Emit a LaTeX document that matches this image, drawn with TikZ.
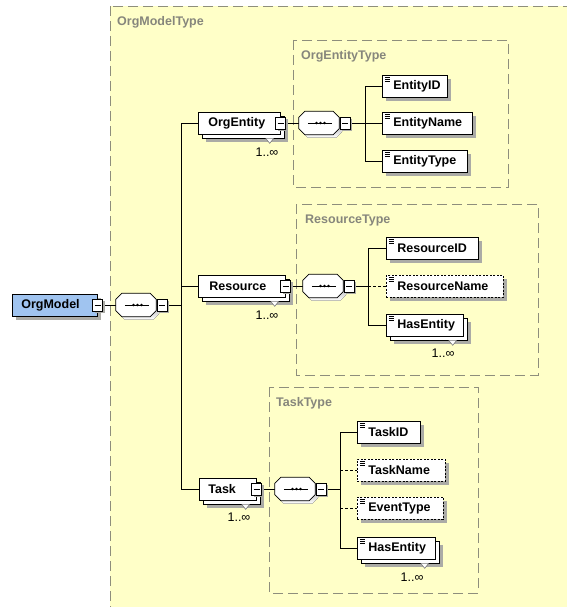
\documentclass[tikz,border=0pt]{standalone}
\usepackage{fontspec}
\setmainfont{Liberation Sans}
\usetikzlibrary{shadows}
\pgfdeclarelayer{typelayer}
\pgfdeclarelayer{wirelayer}
\pgfsetlayers{typelayer,wirelayer,main}

\definecolor{typefill}{HTML}{FFFFC8}
\definecolor{typeline}{HTML}{8E8E7C}
\definecolor{typetext}{HTML}{86867C}
\definecolor{rootfill}{HTML}{A0C4F0}
\definecolor{shade}{HTML}{ABABA6}

% fixed-width element caption: width, left padding, text
\newcommand\eltext[3]{\makebox[#1pt][l]{\hspace*{#2pt}#3}}
% small occurrence notch under a repeated element
\newcommand\notchat[1]{\draw[notch] ([shift={(-15pt,-4pt)}]#1.south east) -- ++(4pt,-5pt) -- ++(4pt,5pt);}
% sequence compositor outline drawn round a named node
\newcommand\octpath[1]{([xshift=6pt]#1.north west) -- ([xshift=-6pt]#1.north east) -- ([yshift=-6pt]#1.north east)
  -- ([yshift=6pt]#1.south east) -- ([xshift=-6pt]#1.south east) -- ([xshift=6pt]#1.south west)
  -- ([yshift=6pt]#1.south west) -- ([yshift=-6pt]#1.north west) -- cycle}
\newcommand\seqdraw[1]{%
  \fill[shade, transform canvas={shift={(3pt,-3pt)}}] \octpath{#1};
  \draw[compline, fill=white] \octpath{#1};
  \draw[line width=0.8pt] ([xshift=9pt]#1.west) -- ([xshift=-7pt]#1.east);
  \foreach \dx in {-2.5,1.5,5.5} \fill ([xshift=\dx pt]#1.center) circle[radius=1.45pt];}

\tikzset{
  x=1pt, y=-1pt,
  elfont/.style={font=\bfseries\fontsize{12.5}{14}\selectfont},
  typebox/.style={draw=typeline, fill=typefill, line width=0.9pt, dash pattern=on 10pt off 5pt},
  typelabel/.style={anchor=west, inner sep=0, text=typetext, elfont},
  elbase/.style={draw=black, fill=white, line width=0.7pt, anchor=west, inner sep=0,
    minimum height=22pt, elfont},
  elem/.style={elbase, drop shadow={shadow xshift=4pt, shadow yshift=-4pt, fill=shade, draw=none, opacity=1}},
  multi/.style={elbase,
    drop shadow={shadow xshift=8pt, shadow yshift=-8pt, fill=shade, draw=none, opacity=1},
    copy shadow={shadow xshift=4pt, shadow yshift=-4pt, fill=white, draw=black, solid, opacity=1}},
  simple/.style={path picture={\foreach \k in {2,4,6}
      \draw[line width=0.5pt, solid] ([xshift=2.5pt, yshift=-\k pt]path picture bounding box.north west) -- ++(5pt,0pt);}},
  optional/.style={dash pattern=on 2pt off 1.5pt},
  root/.style={elem, fill=rootfill},
  minus/.style={draw=black, fill=white, line width=0.6pt, solid, minimum width=10pt, minimum height=12pt, inner sep=0,
    drop shadow={shadow xshift=2pt, shadow yshift=-2pt, fill=shade, draw=none, opacity=1},
    path picture={\draw[line width=0.7pt] ([xshift=2pt]path picture bounding box.west) -- ([xshift=-2pt]path picture bounding box.east);}},
  comp/.style={rectangle, draw=none, minimum width=40pt, minimum height=23pt, inner sep=0},
  compline/.style={draw=black, line width=0.7pt},
  wire/.style={draw=black, line width=0.8pt},
  optwire/.style={wire, dash pattern=on 3pt off 2pt},
  notch/.style={draw=black!60, fill=white, line width=0.5pt},
  occurs/.style={inner sep=0, font=\fontsize{12.5}{14}\selectfont},
}

\begin{document}
\begin{tikzpicture}
\useasboundingbox (0,0) rectangle (566,607);
\clip (0,0) rectangle (566,607);

% complex type regions
\begin{pgfonlayer}{typelayer}
  \fill[white] (0,0) rectangle (566,607);
  \path[typebox] (110,6) rectangle (585,625);
  \path[typebox] (293,40) rectangle (508,187);
  \path[typebox] (296,204) rectangle (538,375);
  \path[typebox] (269,387) rectangle (478,593);
\end{pgfonlayer}
\node[typelabel] (tlom) at (117,22) {OrgModelType};
\node[typelabel] (tloe) at (301,56) {OrgEntityType};
\node[typelabel] (tlres) at (305,220) {ResourceType};
\node[typelabel] (tltask) at (276,403) {TaskType};

% root element
\node[root] (om) at (12,305) {\eltext{85}{9}{OrgModel}};
\node[minus] (omx) at (om.east) {};
\node[comp] (c0) at (136,305) {};
\seqdraw{c0}
\node[minus] (c0x) at ([xshift=6pt]c0.east) {};
\coordinate (bus0) at (181,0);

% OrgEntity branch
\node[multi] (oe) at (198,123) {\eltext{82}{10}{OrgEntity}};
\notchat{oe}
\node[minus] (oex) at (oe.east) {};
\node[occurs] (oeocc) at (267,152) {1..∞};
\node[comp] (c1) at (319,123) {};
\seqdraw{c1}
\node[minus] (c1x) at ([xshift=6pt]c1.east) {};
\coordinate (bus1) at (365,0);
\node[elem, simple] (eid) at (382,86) {\eltext{65}{11}{EntityID}};
\node[elem, simple] (ename) at (382,123) {\eltext{90}{11}{EntityName}};
\node[elem, simple] (etype) at (382,161) {\eltext{85}{11}{EntityType}};

% Resource branch
\node[multi] (res) at (198,286) {\eltext{87}{11}{Resource}};
\notchat{res}
\node[minus] (resx) at (res.east) {};
\node[occurs] (resocc) at (267,315) {1..∞};
\node[comp] (c2) at (323,286) {};
\seqdraw{c2}
\node[minus] (c2x) at ([xshift=6pt]c2.east) {};
\coordinate (bus2) at (368,0);
\node[elem, simple] (rid) at (386,248) {\eltext{92}{11}{ResourceID}};
\node[elem, simple, optional] (rname) at (386,286) {\eltext{117}{11}{ResourceName}};
\node[multi, simple] (rhas) at (386,325) {\eltext{77}{11}{HasEntity}};
\notchat{rhas}
\node[occurs] (rhasocc) at (443,353) {1..∞};

% Task branch
\node[multi] (task) at (199,489) {\eltext{57}{9}{Task}};
\notchat{task}
\node[minus] (taskx) at (task.east) {};
\node[occurs] (taskocc) at (239,517) {1..∞};
\node[comp] (c3) at (295,489) {};
\seqdraw{c3}
\node[minus] (c3x) at ([xshift=6pt]c3.east) {};
\coordinate (bus3) at (340,0);
\node[elem, simple] (tid) at (357,432) {\eltext{63}{11}{TaskID}};
\node[elem, simple, optional] (tname) at (357,470) {\eltext{88}{11}{TaskName}};
\node[elem, simple, optional] (tevt) at (357,508) {\eltext{86}{11}{EventType}};
\node[multi, simple] (thas) at (357,548) {\eltext{78}{11}{HasEntity}};
\notchat{thas}
\node[occurs] (thasocc) at (412,577) {1..∞};

% connectors
\begin{pgfonlayer}{wirelayer}
  \draw[wire] (omx.east) -- (c0.west);
  \draw[wire] (c0x.east) -- (c0x.east -| bus0);
  \draw[wire] (oe.west) -- (oe.west -| bus0) -- (task.west -| bus0) -- (task.west);
  \draw[wire] (res.west -| bus0) -- (res.west);

  \draw[wire] (oex.east) -- (c1.west);
  \draw[wire] (c1x.east) -- (ename.west);
  \draw[wire] (eid.west) -- (eid.west -| bus1) -- (etype.west -| bus1) -- (etype.west);

  \draw[wire] (resx.east) -- (c2.west);
  \draw[wire] (c2x.east) -- (c2x.east -| bus2);
  \draw[wire] (rid.west) -- (rid.west -| bus2) -- (rhas.west -| bus2) -- (rhas.west);
  \draw[optwire] (rname.west -| bus2) -- (rname.west);

  \draw[wire] (taskx.east) -- (c3.west);
  \draw[wire] (c3x.east) -- (c3x.east -| bus3);
  \draw[wire] (tid.west) -- (tid.west -| bus3) -- (thas.west -| bus3) -- (thas.west);
  \draw[optwire] (tname.west -| bus3) -- (tname.west);
  \draw[optwire] (tevt.west -| bus3) -- (tevt.west);
\end{pgfonlayer}
\end{tikzpicture}
\end{document}
